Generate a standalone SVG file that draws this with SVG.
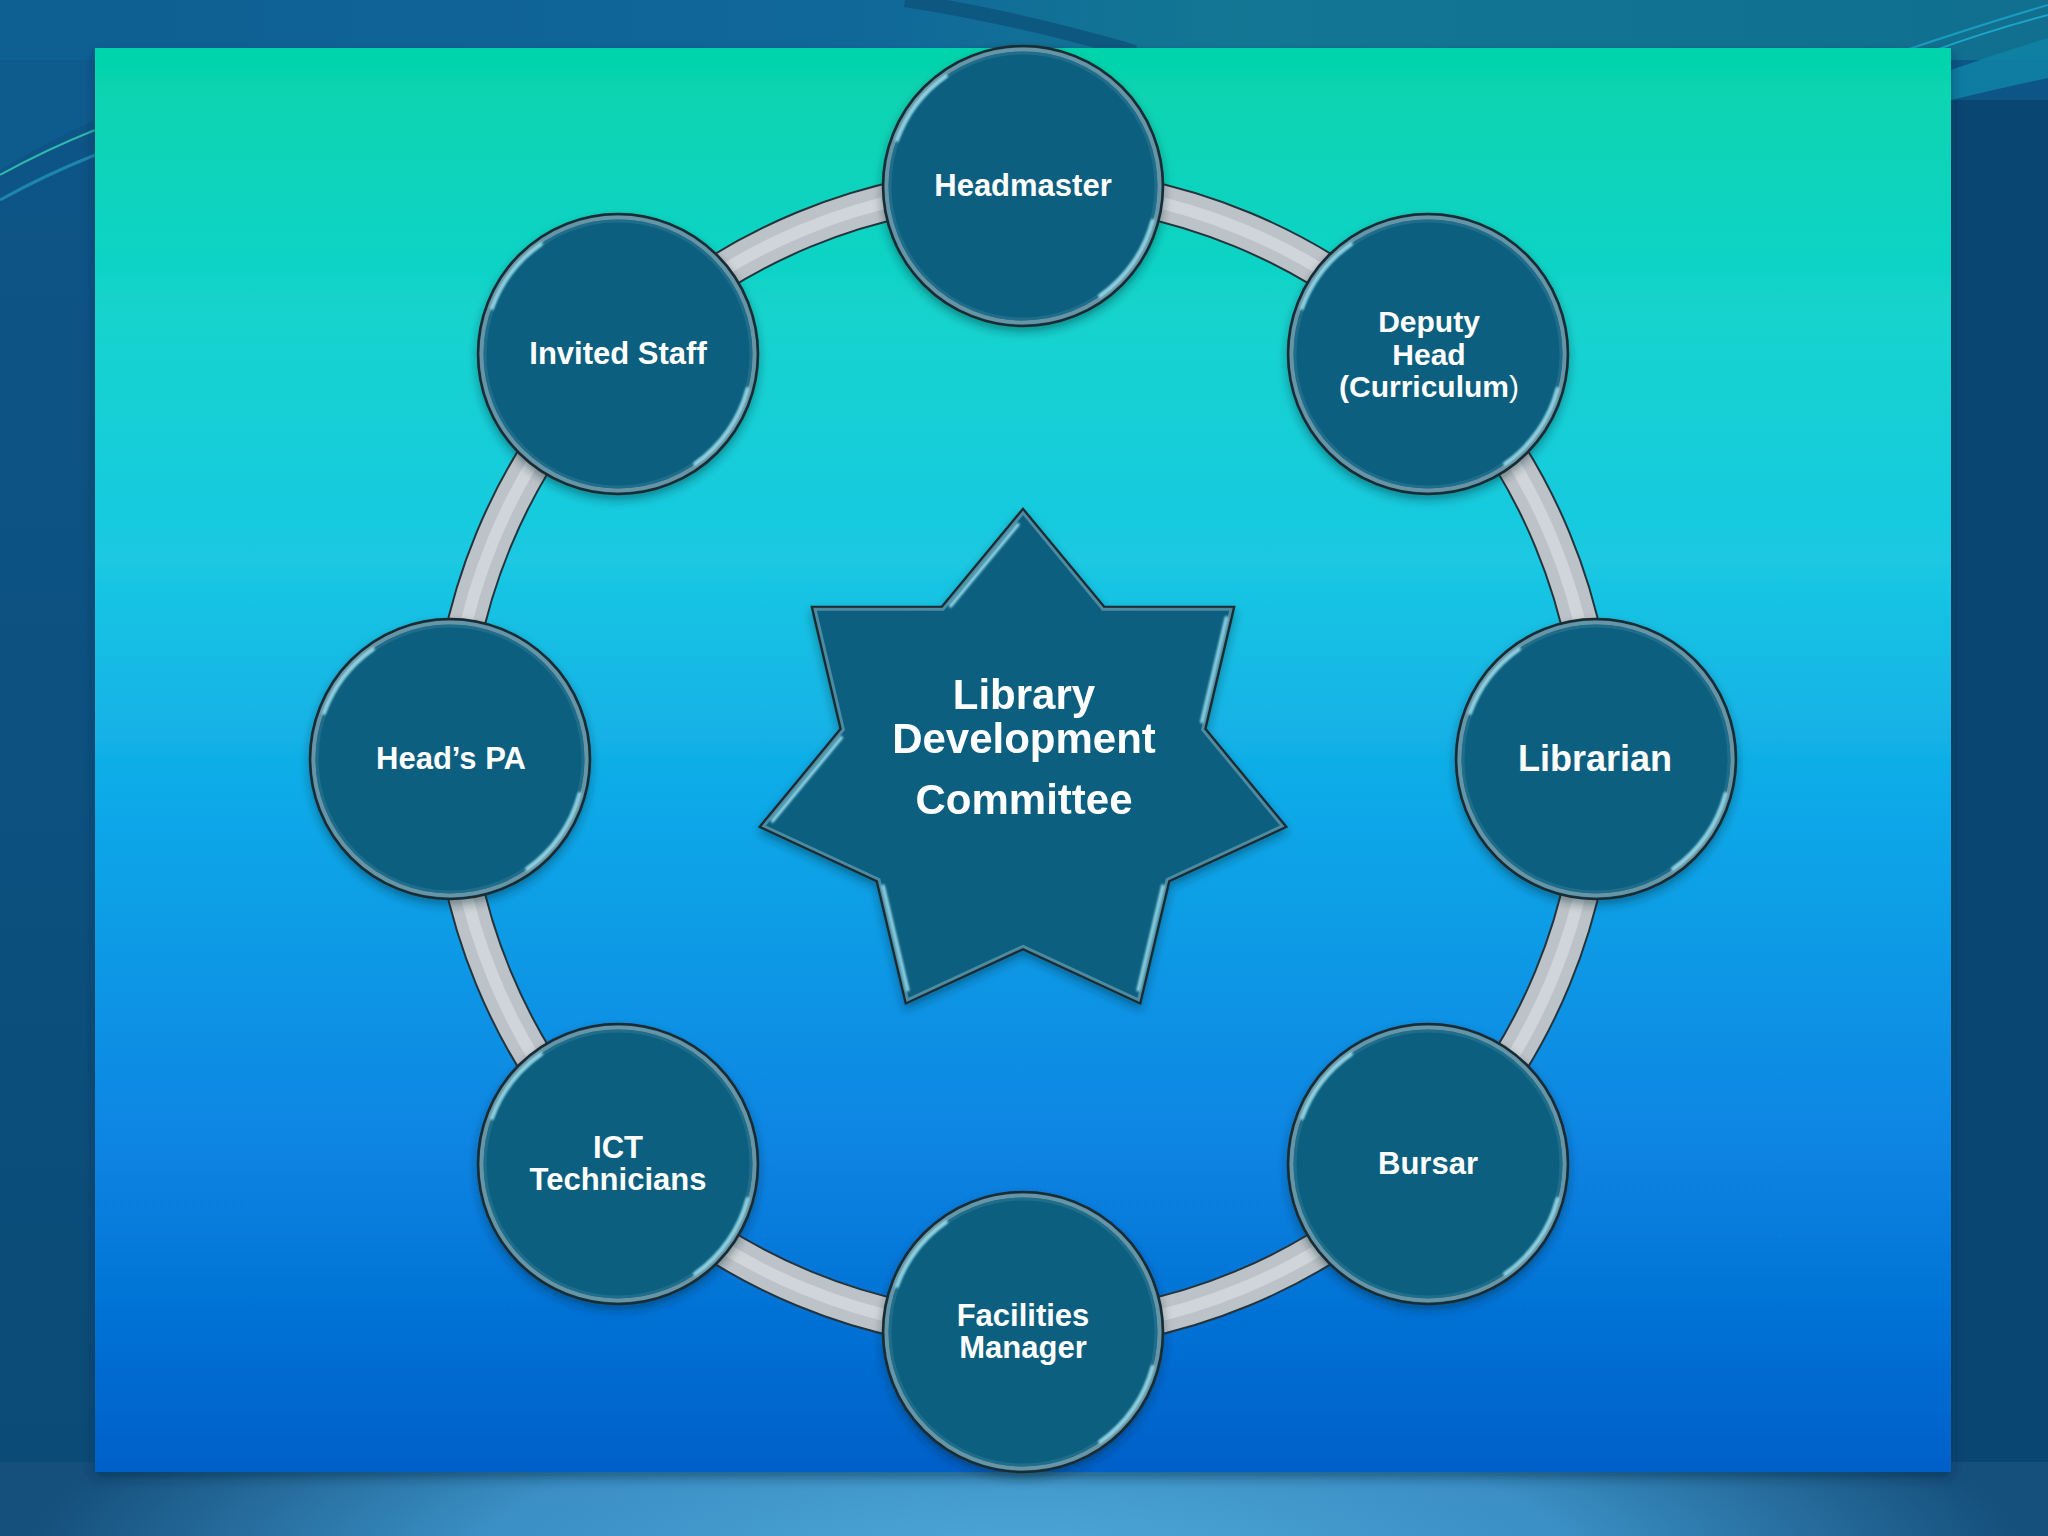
<svg xmlns="http://www.w3.org/2000/svg" xmlns:xlink="http://www.w3.org/1999/xlink" width="2048" height="1536" viewBox="0 0 2048 1536">
<style>
.lbl{font-family:"Liberation Sans",Arial,sans-serif;font-weight:bold;fill:#ffffff;text-anchor:middle;font-size:31px}
.band-edge{fill:none;stroke:#25343c;stroke-width:39}
.band{fill:none;stroke:#bcc3c8;stroke-width:35}
.band-hi{fill:none;stroke:#d8dde0;stroke-width:12;opacity:0.7}
.hl{fill:none;stroke:#a8ecf8;stroke-width:3.5;stroke-linecap:round;opacity:0.85}
</style>
<defs>
<linearGradient id="panelGrad" x1="0" y1="0" x2="0" y2="1">
<stop offset="0" stop-color="#05d4ab"/>
<stop offset="0.2" stop-color="#14d3cf"/>
<stop offset="0.36" stop-color="#1ac8e2"/>
<stop offset="0.53" stop-color="#0fa9e8"/>
<stop offset="0.78" stop-color="#0783e2"/>
<stop offset="1" stop-color="#0560c9"/>
</linearGradient>
<linearGradient id="topGrad" x1="0" y1="0" x2="1" y2="0">
<stop offset="0" stop-color="#0e5f92"/>
<stop offset="0.4" stop-color="#10679a"/>
<stop offset="0.6" stop-color="#137794"/>
<stop offset="1" stop-color="#106f8e"/>
</linearGradient>
<linearGradient id="sideGrad" x1="0" y1="0" x2="0" y2="1">
<stop offset="0" stop-color="#0d5687"/>
<stop offset="0.5" stop-color="#0c5180"/>
<stop offset="1" stop-color="#0b4a76"/>
</linearGradient>
<radialGradient id="bottomGlow" cx="1024" cy="1560" r="1000" gradientUnits="userSpaceOnUse" gradientTransform="translate(1024 1560) scale(1 0.25) translate(-1024 -1560)">
<stop offset="0" stop-color="#4ea7d8"/>
<stop offset="0.55" stop-color="#3a8fc4"/>
<stop offset="1" stop-color="#154f7c"/>
</radialGradient>
<filter id="shadow" x="-20%" y="-20%" width="140%" height="140%">
<feDropShadow dx="0" dy="5" stdDeviation="5" flood-color="#002030" flood-opacity="0.4"/>
</filter>
<filter id="panelShadow" x="-5%" y="-5%" width="110%" height="110%">
<feDropShadow dx="0" dy="6" stdDeviation="6" flood-color="#00203a" flood-opacity="0.45"/>
</filter>
<filter id="soft" x="-20%" y="-20%" width="140%" height="140%">
<feGaussianBlur stdDeviation="0.8"/>
</filter>
<g id="bubble">
<circle r="140" fill="#0a5f80" stroke="#1c2a32" stroke-width="2.5" filter="url(#shadow)"/>
<circle r="136.5" fill="none" stroke="#86a7b3" stroke-width="4" opacity="0.75"/>
<circle r="133" fill="none" stroke="#2a7893" stroke-width="3" opacity="0.6"/>
<path class="hl" filter="url(#soft)" d="M -125.9 -45.8 A 134 134 0 0 1 -76.9 -109.8"/>
<path class="hl" filter="url(#soft)" d="M 129.4 34.7 A 134 134 0 0 1 76.9 109.8"/>
</g>
<polygon id="starShape" points="1023,509 1104.1,606.8 1234.1,606.9 1205.3,728.9 1286.2,826.9 1169.2,881.2 1140.2,1003.3 1023,949 905.8,1003.3 876.8,881.2 759.8,826.9 840.7,728.9 811.9,606.9 941.9,606.8"/>
</defs>

<!-- background -->
<rect x="0" y="0" width="2048" height="1536" fill="url(#sideGrad)"/>
<rect x="0" y="0" width="2048" height="60" fill="url(#topGrad)"/>
<path d="M 0 60 L 0 170 Q 50 140 95 120 L 95 60 Z" fill="#0e5c8e"/>
<path d="M 0 175 Q 45 150 95 130" fill="none" stroke="#3ad0b8" stroke-width="2" opacity="0.8"/>
<path d="M 0 200 Q 45 175 95 155" fill="none" stroke="#2aa5c8" stroke-width="3" opacity="0.6"/>
<path d="M 905 0 Q 1020 18 1135 52" fill="none" stroke="#0d527c" stroke-width="14" opacity="0.8"/>
<path d="M 1951 60 L 2048 40 L 2048 0 L 1951 0 Z" fill="#116f8f"/>
<path d="M 1951 70 Q 2000 52 2048 38 L 2048 78 Q 2000 88 1951 100 Z" fill="#0f84a6" opacity="0.85"/>
<path d="M 1900 52 Q 1980 25 2048 5" fill="none" stroke="#1a9cc0" stroke-width="2"/>
<path d="M 1930 52 Q 1990 30 2048 15" fill="none" stroke="#1ba5c8" stroke-width="2"/>
<rect x="1951" y="100" width="97" height="1372" fill="#0a4672"/>
<rect x="0" y="1462" width="2048" height="74" fill="url(#bottomGlow)"/>

<!-- panel -->
<rect id="panel" x="95" y="48" width="1856" height="1424" fill="url(#panelGrad)" filter="url(#panelShadow)"/>

<!-- connectors: ring -->
<g id="connectors">
<g class="band-edge">
<path id="arc1" d="M 1023 186 A 573 573 0 0 1 1428.2 353.8"/>
<path id="arc2" d="M 1428.2 353.8 A 573 573 0 0 1 1596 759"/>
<path id="arc3" d="M 1596 759 A 573 573 0 0 1 1428.2 1164.2"/>
<path id="arc4" d="M 1428.2 1164.2 A 573 573 0 0 1 1023 1332"/>
<path id="arc5" d="M 1023 1332 A 573 573 0 0 1 617.8 1164.2"/>
<path id="arc6" d="M 617.8 1164.2 A 573 573 0 0 1 450 759"/>
<path id="arc7" d="M 450 759 A 573 573 0 0 1 617.8 353.8"/>
<path id="arc8" d="M 617.8 353.8 A 573 573 0 0 1 1023 186"/>
</g>
<g class="band">
<use href="#arc1"/><use href="#arc2"/><use href="#arc3"/><use href="#arc4"/>
<use href="#arc5"/><use href="#arc6"/><use href="#arc7"/><use href="#arc8"/>
</g>
<g class="band-hi">
<use href="#arc1"/><use href="#arc2"/><use href="#arc3"/><use href="#arc4"/>
<use href="#arc5"/><use href="#arc6"/><use href="#arc7"/><use href="#arc8"/>
</g>
</g>

<!-- center star -->
<g id="node-committee">
<use href="#starShape" fill="#0a5f80" stroke="#1c2a32" stroke-width="2.5" filter="url(#shadow)"/>
<use href="#starShape" fill="none" stroke="#7fb0c0" stroke-width="3" opacity="0.55" transform="translate(1023 769) scale(0.985) translate(-1023 -769)"/>
<g filter="url(#soft)">
<line class="hl" x1="1017.9" y1="524.6" x2="950.6" y2="605.8"/>
<line class="hl" x1="1226.3" y1="617.9" x2="1201.8" y2="721.6"/>
<line class="hl" x1="841.3" y1="737.6" x2="772.5" y2="820.9"/>
<line class="hl" x1="1162.8" y1="886.1" x2="1138.2" y2="989.9"/>
<line class="hl" x1="883.2" y1="886.1" x2="907.8" y2="989.9" opacity="0.45"/>
</g>
<text class="lbl" style="font-size:42px" x="1024" y="709">Library</text>
<text class="lbl" style="font-size:42px" x="1024" y="753">Development</text>
<text class="lbl" style="font-size:42px" x="1024" y="814">Committee</text>
</g>

<!-- nodes -->
<g id="node-headmaster">
<use href="#bubble" x="1023" y="186"/>
<text class="lbl" x="1023" y="196">Headmaster</text>
</g>
<g id="node-deputy">
<use href="#bubble" x="1428" y="354"/>
<text class="lbl" style="font-size:30px" x="1429" y="332">Deputy</text>
<text class="lbl" style="font-size:30px" x="1429" y="365">Head</text>
<text class="lbl" style="font-size:30px" x="1429" y="397">(Curriculum<tspan style="font-weight:normal">)</tspan></text>
</g>
<g id="node-librarian">
<use href="#bubble" x="1596" y="759"/>
<text class="lbl" style="font-size:36px" x="1595" y="771">Librarian</text>
</g>
<g id="node-bursar">
<use href="#bubble" x="1428" y="1164"/>
<text class="lbl" x="1428" y="1174">Bursar</text>
</g>
<g id="node-facilities">
<use href="#bubble" x="1023" y="1332"/>
<text class="lbl" x="1023" y="1326">Facilities</text>
<text class="lbl" x="1023" y="1358">Manager</text>
</g>
<g id="node-ict">
<use href="#bubble" x="618" y="1164"/>
<text class="lbl" x="618" y="1158">ICT</text>
<text class="lbl" x="618" y="1190">Technicians</text>
</g>
<g id="node-headspa">
<use href="#bubble" x="450" y="759"/>
<text class="lbl" x="451" y="769">Head’s PA</text>
</g>
<g id="node-invited">
<use href="#bubble" x="618" y="354"/>
<text class="lbl" x="618" y="364">Invited Staff</text>
</g>
</svg>
